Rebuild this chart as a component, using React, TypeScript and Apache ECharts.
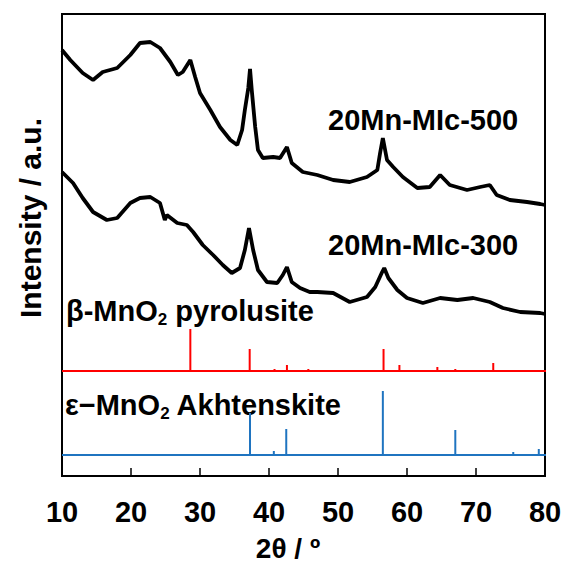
import React, { useEffect, useRef } from "react";
import * as echarts from "echarts";

// 2θ (degrees) and intensity (a.u.)
const mic500X = [10, 11.2, 13.0, 14.5, 15.9, 18.0, 19.9, 21.3, 22.8, 24.2, 25.7, 26.8, 27.5, 28.6, 29.3, 30.0, 31.5, 32.9, 34.4, 35.4, 36.1, 36.5, 37.0, 37.25, 37.5, 38.0, 38.4, 39.1, 40.6, 41.6, 42.6, 43.3, 44.9, 47.0, 49.3, 51.7, 54.2, 55.7, 56.1, 56.5, 57.1, 58.0, 59.4, 61.5, 63.3, 64.8, 66.2, 68.7, 70.6, 72.0, 73.0, 74.9, 77.4, 79.3, 80];
const mic500Y = [426, 416, 403, 396, 404, 408, 421, 433, 434, 428, 414, 401, 404, 416, 399, 383, 366, 349, 336, 331, 346, 366, 388, 407, 386, 349, 326, 318, 319, 318, 329, 313, 304, 301, 296, 294, 299, 306, 323, 338, 316, 309, 299, 288, 289, 301, 291, 286, 289, 291, 281, 276, 274, 272, 271];

const mic300X = [10, 11.6, 13.0, 14.5, 16.5, 18.0, 19.9, 21.3, 22.8, 24.2, 24.9, 25.2, 26.7, 28.1, 29.0, 30.4, 31.9, 33.3, 34.6, 35.8, 36.5, 37.1, 37.7, 38.4, 39.7, 41.2, 42.0, 42.6, 43.3, 44.5, 45.9, 47.0, 49.3, 51.7, 54.2, 55.4, 56.4, 56.7, 57.3, 58.6, 60.0, 62.3, 64.8, 67.3, 69.6, 72.0, 73.9, 76.4, 79.3, 80];
const mic300Y = [304, 293, 278, 264, 256, 258, 273, 278, 279, 273, 256, 261, 253, 251, 244, 231, 221, 211, 203, 208, 226, 248, 226, 206, 194, 193, 201, 209, 194, 188, 184, 184, 183, 174, 179, 189, 204, 208, 198, 186, 178, 173, 178, 176, 178, 174, 168, 164, 163, 162];

// reference patterns: baseline and stick heights
const pyroBase = 105;
const pyroPos = [28.6, 37.2, 40.8, 42.6, 45.7, 56.6, 58.9, 64.4, 67.0, 72.5];
const pyroH = [42, 22, 2, 6, 2, 22, 6, 4, 2, 8];

const akhBase = 21;
const akhPos = [37.25, 40.7, 42.5, 56.5, 67.0, 75.4, 79.1];
const akhH = [42, 4, 26, 64, 25, 3, 6];

const xTicks = [10, 20, 30, 40, 50, 60, 70, 80];

const FONT = "'Liberation Sans', Arial, sans-serif";
const RED = "#ff0000";
const BLUE = "#1f74c0";

function sticks(pos: number[], h: number[], base: number, color: string) {
  return {
    type: "custom",
    data: pos.map((p, i) => [p, base, base + h[i]]),
    encode: { x: 0, y: [1, 2] },
    renderItem: (_params: any, api: any) => {
      const a = api.coord([api.value(0), api.value(1)]);
      const b = api.coord([api.value(0), api.value(2)]);
      return {
        type: "line",
        shape: { x1: a[0], y1: a[1], x2: b[0], y2: b[1] },
        style: { stroke: color, lineWidth: 2 },
      };
    },
    silent: true,
    z: 3,
  };
}

export default function App() {
  const ref = useRef<HTMLDivElement>(null);
  useEffect(() => {
    if (!ref.current) return;
    const chart = echarts.init(ref.current, null, { renderer: "svg" });
    const bold = { fontFamily: FONT, fontWeight: "bold", fill: "#000" };
    const richStyle = {
      a: { fontFamily: FONT, fontWeight: "bold", fontSize: 29, lineHeight: 34, color: "#000" },
      s: { fontFamily: FONT, fontWeight: "bold", fontSize: 17, color: "#000", verticalAlign: "bottom" },
    };
    chart.setOption({
      animation: false,
      grid: { left: 62, right: 21, top: 14, bottom: 94, show: true, borderColor: "#000", borderWidth: 2, backgroundColor: "transparent" },
      xAxis: {
        type: "value",
        min: 10,
        max: 80,
        interval: 10,
        axisLine: { show: false },
        axisTick: { show: true, inside: true, length: 8, lineStyle: { color: "#000", width: 1.5 } },
        splitLine: { show: false },
        axisLabel: {
          fontSize: 29,
          fontWeight: "bold",
          fontFamily: FONT,
          color: "#000",
          margin: 21,
          formatter: (v: number) => (xTicks.includes(v) ? String(v) : ""),
        },
      },
      yAxis: {
        type: "value",
        min: 0,
        max: 462,
        show: false,
        splitLine: { show: false },
      },
      series: [
        {
          type: "line",
          data: mic500X.map((x, i) => [x, mic500Y[i]]),
          showSymbol: false,
          lineStyle: { color: "#000", width: 3.8 },
          z: 2,
        },
        {
          type: "line",
          data: mic300X.map((x, i) => [x, mic300Y[i]]),
          showSymbol: false,
          lineStyle: { color: "#000", width: 3.8 },
          z: 2,
        },
        {
          type: "line",
          data: [[10, pyroBase], [80.3, pyroBase]],
          showSymbol: false,
          clip: false,
          lineStyle: { color: RED, width: 2 },
          z: 3,
        },
        {
          type: "line",
          data: [[10, akhBase], [80.3, akhBase]],
          showSymbol: false,
          clip: false,
          lineStyle: { color: BLUE, width: 2 },
          z: 3,
        },
        sticks(pyroPos, pyroH, pyroBase, RED),
        sticks(akhPos, akhH, akhBase, BLUE),
      ],
      graphic: [
        {
          type: "text",
          x: 288,
          y: 548,
          style: { ...bold, text: "2θ / º", fontSize: 28, align: "center", verticalAlign: "middle" },
        },
        {
          type: "text",
          x: 30,
          y: 218,
          rotation: Math.PI / 2,
          style: { ...bold, text: "Intensity / a.u.", fontSize: 30, align: "center", verticalAlign: "middle" },
        },
        {
          type: "text",
          x: 328,
          y: 120,
          style: { ...bold, text: "20Mn-MIc-500", fontSize: 29, align: "left", verticalAlign: "middle" },
        },
        {
          type: "text",
          x: 328,
          y: 245,
          style: { ...bold, text: "20Mn-MIc-300", fontSize: 29, align: "left", verticalAlign: "middle" },
        },
        {
          type: "text",
          x: 66,
          y: 311,
          style: { text: "{a|β-MnO}{s|2}{a| pyrolusite}", align: "left", verticalAlign: "middle", rich: richStyle },
        },
        {
          type: "text",
          x: 65,
          y: 405,
          style: { text: "{a|ε−MnO}{s|2}{a| Akhtenskite}", align: "left", verticalAlign: "middle", rich: richStyle },
        },
      ],
    });
    return () => chart.dispose();
  }, []);
  return <div ref={ref} style={{ position: "absolute", left: 0, top: 0, width: 566, height: 570 }} />;
}
